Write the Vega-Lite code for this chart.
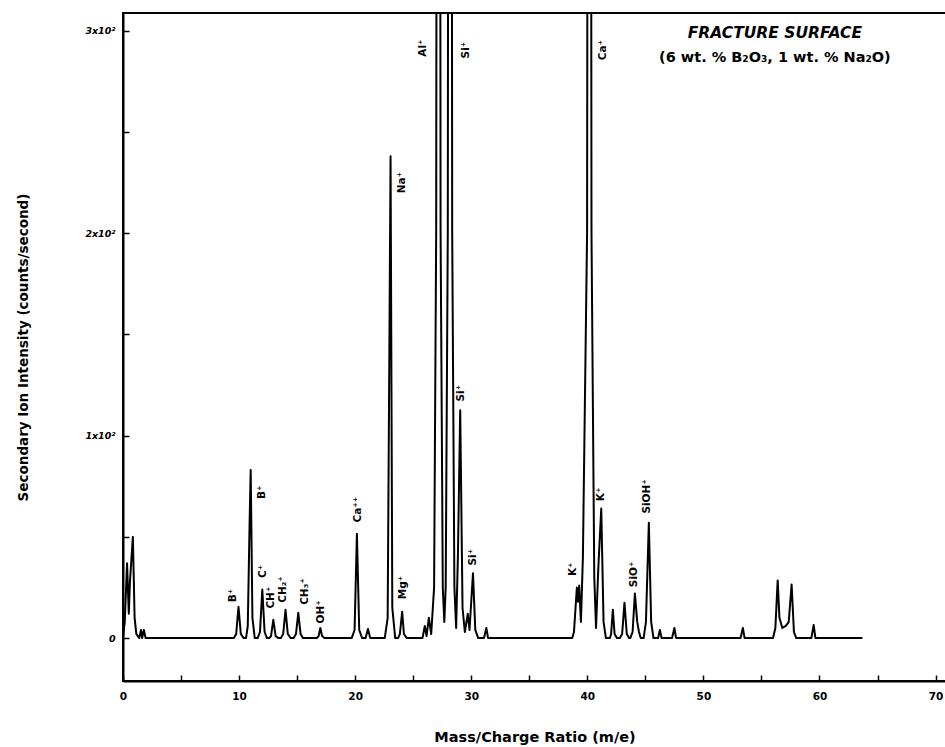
{
  "$schema": "https://vega.github.io/schema/vega-lite/v6.json",
  "width": 823,
  "height": 668,
  "autosize": {"type": "none"},
  "padding": {"left": 123, "top": 13, "right": 0, "bottom": 66},
  "background": "white",
  "config": {
    "view": {"stroke": "black", "strokeWidth": 2},
    "font": "DejaVu Sans"
  },
  "datasets": {
    "spectrum": [
      {"mz": 0, "intensity": 0}, {"mz": 0.15, "intensity": 8}, {"mz": 0.35, "intensity": 37}, {"mz": 0.5, "intensity": 12},
      {"mz": 0.6, "intensity": 28}, {"mz": 0.85, "intensity": 50}, {"mz": 1.0, "intensity": 10}, {"mz": 1.15, "intensity": 2},
      {"mz": 1.4, "intensity": 0}, {"mz": 1.55, "intensity": 4}, {"mz": 1.65, "intensity": 0}, {"mz": 1.8, "intensity": 4},
      {"mz": 1.95, "intensity": 0},
      {"mz": 9.55, "intensity": 0}, {"mz": 9.75, "intensity": 2}, {"mz": 9.95, "intensity": 15.5}, {"mz": 10.15, "intensity": 2}, {"mz": 10.4, "intensity": 0},
      {"mz": 10.6, "intensity": 0}, {"mz": 10.75, "intensity": 6}, {"mz": 10.9, "intensity": 55}, {"mz": 11.0, "intensity": 83}, {"mz": 11.15, "intensity": 10}, {"mz": 11.35, "intensity": 0},
      {"mz": 11.6, "intensity": 0}, {"mz": 11.8, "intensity": 3}, {"mz": 12.0, "intensity": 24}, {"mz": 12.2, "intensity": 3}, {"mz": 12.4, "intensity": 0},
      {"mz": 12.6, "intensity": 0}, {"mz": 12.75, "intensity": 1}, {"mz": 12.95, "intensity": 9}, {"mz": 13.15, "intensity": 1}, {"mz": 13.4, "intensity": 0},
      {"mz": 13.6, "intensity": 0}, {"mz": 13.8, "intensity": 2}, {"mz": 14.0, "intensity": 14}, {"mz": 14.2, "intensity": 2}, {"mz": 14.45, "intensity": 0},
      {"mz": 14.7, "intensity": 0}, {"mz": 14.9, "intensity": 2}, {"mz": 15.1, "intensity": 12.5}, {"mz": 15.3, "intensity": 2}, {"mz": 15.5, "intensity": 0},
      {"mz": 16.7, "intensity": 0}, {"mz": 16.85, "intensity": 1}, {"mz": 17.0, "intensity": 5}, {"mz": 17.15, "intensity": 1}, {"mz": 17.35, "intensity": 0},
      {"mz": 19.7, "intensity": 0}, {"mz": 19.95, "intensity": 4}, {"mz": 20.15, "intensity": 51.5}, {"mz": 20.35, "intensity": 4}, {"mz": 20.6, "intensity": 0},
      {"mz": 20.9, "intensity": 0}, {"mz": 21.1, "intensity": 4.5}, {"mz": 21.3, "intensity": 0},
      {"mz": 22.55, "intensity": 0}, {"mz": 22.8, "intensity": 10}, {"mz": 22.95, "intensity": 145}, {"mz": 23.05, "intensity": 238}, {"mz": 23.2, "intensity": 15}, {"mz": 23.45, "intensity": 0},
      {"mz": 23.7, "intensity": 0}, {"mz": 23.85, "intensity": 2}, {"mz": 24.05, "intensity": 13}, {"mz": 24.2, "intensity": 2}, {"mz": 24.45, "intensity": 0},
      {"mz": 25.8, "intensity": 0}, {"mz": 26.0, "intensity": 6}, {"mz": 26.15, "intensity": 1}, {"mz": 26.35, "intensity": 10}, {"mz": 26.55, "intensity": 2},
      {"mz": 26.8, "intensity": 25}, {"mz": 26.98, "intensity": 200}, {"mz": 27.02, "intensity": 420}, {"mz": 27.32, "intensity": 420}, {"mz": 27.36, "intensity": 200},
      {"mz": 27.55, "intensity": 25}, {"mz": 27.68, "intensity": 8},
      {"mz": 27.8, "intensity": 25}, {"mz": 27.98, "intensity": 200}, {"mz": 28.02, "intensity": 420}, {"mz": 28.32, "intensity": 420}, {"mz": 28.36, "intensity": 200},
      {"mz": 28.55, "intensity": 25}, {"mz": 28.7, "intensity": 5},
      {"mz": 28.85, "intensity": 40}, {"mz": 29.05, "intensity": 112.5}, {"mz": 29.25, "intensity": 15}, {"mz": 29.45, "intensity": 3},
      {"mz": 29.7, "intensity": 12}, {"mz": 29.85, "intensity": 4}, {"mz": 30.15, "intensity": 32}, {"mz": 30.35, "intensity": 4}, {"mz": 30.6, "intensity": 0},
      {"mz": 31.1, "intensity": 0}, {"mz": 31.3, "intensity": 5}, {"mz": 31.45, "intensity": 0},
      {"mz": 38.7, "intensity": 0}, {"mz": 38.85, "intensity": 3}, {"mz": 39.1, "intensity": 25}, {"mz": 39.2, "intensity": 18}, {"mz": 39.3, "intensity": 26},
      {"mz": 39.45, "intensity": 8}, {"mz": 39.62, "intensity": 40}, {"mz": 39.98, "intensity": 200}, {"mz": 40.02, "intensity": 420}, {"mz": 40.32, "intensity": 420},
      {"mz": 40.36, "intensity": 200}, {"mz": 40.6, "intensity": 30}, {"mz": 40.75, "intensity": 5},
      {"mz": 40.95, "intensity": 35}, {"mz": 41.2, "intensity": 64}, {"mz": 41.4, "intensity": 8}, {"mz": 41.6, "intensity": 0},
      {"mz": 41.95, "intensity": 0}, {"mz": 42.05, "intensity": 2}, {"mz": 42.2, "intensity": 14}, {"mz": 42.35, "intensity": 2}, {"mz": 42.55, "intensity": 0},
      {"mz": 42.8, "intensity": 0}, {"mz": 43.0, "intensity": 2}, {"mz": 43.2, "intensity": 17.5}, {"mz": 43.4, "intensity": 2}, {"mz": 43.6, "intensity": 0},
      {"mz": 43.7, "intensity": 0}, {"mz": 43.9, "intensity": 3}, {"mz": 44.1, "intensity": 22}, {"mz": 44.3, "intensity": 8}, {"mz": 44.45, "intensity": 3}, {"mz": 44.6, "intensity": 0},
      {"mz": 44.85, "intensity": 0}, {"mz": 45.05, "intensity": 8}, {"mz": 45.3, "intensity": 57}, {"mz": 45.5, "intensity": 8}, {"mz": 45.7, "intensity": 0},
      {"mz": 46.1, "intensity": 0}, {"mz": 46.25, "intensity": 4}, {"mz": 46.4, "intensity": 0},
      {"mz": 47.3, "intensity": 0}, {"mz": 47.5, "intensity": 5}, {"mz": 47.65, "intensity": 0},
      {"mz": 53.2, "intensity": 0}, {"mz": 53.4, "intensity": 5}, {"mz": 53.55, "intensity": 0},
      {"mz": 56.0, "intensity": 0}, {"mz": 56.2, "intensity": 5}, {"mz": 56.4, "intensity": 28.5}, {"mz": 56.55, "intensity": 10}, {"mz": 56.8, "intensity": 5},
      {"mz": 57.1, "intensity": 6}, {"mz": 57.35, "intensity": 8}, {"mz": 57.6, "intensity": 26.5}, {"mz": 57.8, "intensity": 3}, {"mz": 58.0, "intensity": 0},
      {"mz": 59.3, "intensity": 0}, {"mz": 59.5, "intensity": 6.5}, {"mz": 59.65, "intensity": 0},
      {"mz": 63.7, "intensity": 0}
    ],
    "labels": [
      {"mz": 9.47, "intensity": 21, "label": "B⁺"},
      {"mz": 11.97, "intensity": 72, "label": "B⁺"},
      {"mz": 12.06, "intensity": 33, "label": "C⁺"},
      {"mz": 12.75, "intensity": 20, "label": "CH⁺"},
      {"mz": 13.78, "intensity": 24, "label": "CH₂⁺"},
      {"mz": 15.68, "intensity": 23, "label": "CH₃⁺"},
      {"mz": 17.06, "intensity": 13, "label": "OH⁺"},
      {"mz": 20.24, "intensity": 63.5, "label": "Ca⁺⁺"},
      {"mz": 24.03, "intensity": 225, "label": "Na⁺"},
      {"mz": 24.12, "intensity": 25, "label": "Mg⁺"},
      {"mz": 25.84, "intensity": 291.5, "label": "Al⁺"},
      {"mz": 29.54, "intensity": 290.5, "label": "Si⁺"},
      {"mz": 29.11, "intensity": 121, "label": "Si⁺"},
      {"mz": 30.15, "intensity": 40, "label": "Si⁺"},
      {"mz": 38.76, "intensity": 34, "label": "K⁺"},
      {"mz": 41.34, "intensity": 290.5, "label": "Ca⁺"},
      {"mz": 41.17, "intensity": 71, "label": "K⁺"},
      {"mz": 44.01, "intensity": 31.5, "label": "SiO⁺"},
      {"mz": 45.13, "intensity": 70, "label": "SiOH⁺"}
    ],
    "notes": [
      {"mz": 56.16, "intensity": 299, "text": "FRACTURE SURFACE", "kind": "heading"},
      {"mz": 56.16, "intensity": 286.5, "text": "(6 wt. % B₂O₃, 1 wt. % Na₂O)", "kind": "detail"}
    ]
  },
  "layer": [
    {
      "data": {"name": "spectrum"},
      "mark": {"type": "line", "color": "black", "strokeWidth": 2, "clip": true, "strokeJoin": "round"},
      "encoding": {
        "x": {
          "field": "mz", "type": "quantitative",
          "scale": {"domain": [0, 70.9], "nice": false, "zero": false},
          "axis": {
            "title": "Mass/Charge Ratio (m/e)",
            "values": [0, 5, 10, 15, 20, 25, 30, 35, 40, 45, 50, 55, 60, 65, 70],
            "labelExpr": "datum.value % 10 == 0 ? datum.label : ''",
            "grid": false,
            "domainColor": "black", "domainWidth": 2,
            "tickColor": "black", "tickSize": -6, "tickWidth": 1.5,
            "labelPadding": 16,
            "labelFont": "DejaVu Sans", "labelFontWeight": "bold", "labelFontSize": 10.5, "labelColor": "black",
            "labelFlush": false,
            "titleFont": "DejaVu Sans", "titleFontSize": 14.5, "titleFontWeight": "bold", "titleColor": "black",
            "titleY": 56, "titleBaseline": "middle"
          }
        },
        "y": {
          "field": "intensity", "type": "quantitative",
          "scale": {"domain": [-21.2, 308.8], "nice": false, "zero": false},
          "axis": {
            "title": "Secondary Ion Intensity (counts/second)",
            "values": [0, 50, 100, 150, 200, 250, 300],
            "labelExpr": "datum.value == 0 ? '0' : (datum.value % 100 == 0 ? (datum.value / 100) + 'x10²' : '')",
            "grid": false,
            "domainColor": "black", "domainWidth": 2,
            "tickColor": "black", "tickSize": -6, "tickWidth": 1.5,
            "labelPadding": 14,
            "labelFont": "DejaVu Sans", "labelFontWeight": "bold", "labelFontStyle": "italic", "labelFontSize": 9.5, "labelColor": "black",
            "labelFlush": false,
            "titleFont": "DejaVu Sans", "titleFontSize": 13.5, "titleFontWeight": "bold", "titleColor": "black",
            "titleX": -100, "titleAngle": 270, "titleBaseline": "middle"
          }
        }
      }
    },
    {
      "data": {"name": "labels"},
      "mark": {"type": "text", "angle": 270, "font": "DejaVu Sans", "fontSize": 10.5, "fontWeight": "bold", "align": "center", "baseline": "middle", "color": "black"},
      "encoding": {
        "x": {"field": "mz", "type": "quantitative"},
        "y": {"field": "intensity", "type": "quantitative"},
        "text": {"field": "label"}
      }
    },
    {
      "data": {"name": "notes"},
      "transform": [{"filter": "datum.kind == 'heading'"}],
      "mark": {"type": "text", "font": "DejaVu Sans", "fontSize": 15.5, "fontWeight": "bold", "fontStyle": "italic", "align": "center", "baseline": "middle", "color": "black"},
      "encoding": {
        "x": {"field": "mz", "type": "quantitative"},
        "y": {"field": "intensity", "type": "quantitative"},
        "text": {"field": "text"}
      }
    },
    {
      "data": {"name": "notes"},
      "transform": [{"filter": "datum.kind == 'detail'"}],
      "mark": {"type": "text", "font": "DejaVu Sans", "fontSize": 14.5, "fontWeight": "bold", "align": "center", "baseline": "middle", "color": "black"},
      "encoding": {
        "x": {"field": "mz", "type": "quantitative"},
        "y": {"field": "intensity", "type": "quantitative"},
        "text": {"field": "text"}
      }
    }
  ]
}
